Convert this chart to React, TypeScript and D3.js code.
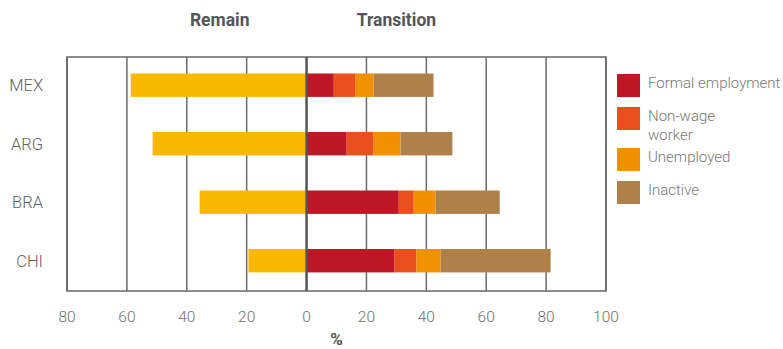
import * as d3 from "d3";

// countries, top to bottom
const categories = ["MEX", "ARG", "BRA", "CHI"];

// % who remain (drawn to the left of zero)
const remain = [58.7, 51.4, 35.7, 19.4];

// % who transition, by destination (stacked to the right)
const formal = [9.1, 13.4, 30.8, 29.4];
const nonWage = [7.3, 9.0, 5.0, 7.3];
const unemployed = [6.0, 9.0, 7.3, 8.1];
const inactive = [20.0, 17.3, 21.4, 36.7];

const seriesKeys = ["formal", "nonWage", "unemployed", "inactive"];
const seriesLabels = [["Formal employment"], ["Non-wage", "worker"], ["Unemployed"], ["Inactive"]];
const seriesColors = ["#be1826", "#e9501e", "#f29100", "#b0804b"];
const remainColor = "#fab800";

const xTicks = [-80, -60, -40, -20, 0, 20, 40, 60, 80, 100];

const W = 783;
const H = 349;
const font = "Roboto, 'Open Sans', sans-serif";

export default function App() {
  const rows = categories.map((c, i) => ({
    cat: c,
    formal: formal[i],
    nonWage: nonWage[i],
    unemployed: unemployed[i],
    inactive: inactive[i],
  }));

  const x = d3.scaleLinear().domain([-80, 100]).range([67, 606]);
  const y = d3.scaleBand().domain(categories).range([57, 291]).paddingInner(0.6).paddingOuter(0.3).align(0.47);

  const stacked = d3.stack<any>().keys(seriesKeys)(rows);

  const [top, bottom] = y.range();

  // legend rows, taller when the label wraps
  let ly = 74;
  const legend = seriesLabels.map((lines, i) => {
    const item = { lines, color: seriesColors[i], y: ly };
    ly += 33 + (lines.length - 1) * 8;
    return item;
  });

  return (
    <div style={{ position: "absolute", left: 0, top: 0 }}>
      <svg width={W} height={H} style={{ display: "block", background: "#fff" }}>
        {/* headings */}
        <text x={x(-29)} y={26} textAnchor="middle" fontFamily={font} fontWeight="bold" fontSize={17.5} fill="#555">
          Remain
        </text>
        <text x={x(30)} y={26} textAnchor="middle" fontFamily={font} fontWeight="bold" fontSize={17.5} fill="#555">
          Transition
        </text>

        {/* grid */}
        {xTicks.filter((t) => t !== 0).map((t) => (
          <line key={t} x1={x(t)} x2={x(t)} y1={top} y2={bottom} stroke="#6a6a6a" strokeWidth={1.5} />
        ))}
        <rect x={x(-80)} y={top} width={x(100) - x(-80)} height={bottom - top} fill="none" stroke="#666" strokeWidth={1.5} />

        {/* remain bars */}
        {categories.map((c, i) => (
          <rect key={c} x={x(-remain[i])} y={y(c)} width={x(0) - x(-remain[i])} height={y.bandwidth()} fill={remainColor} />
        ))}

        {/* transition bars */}
        {stacked.map((s, si) =>
          s.map((d) => (
            <rect
              key={`${s.key}-${d.data.cat}`}
              x={x(d[0])}
              y={y(d.data.cat)}
              width={x(d[1]) - x(d[0])}
              height={y.bandwidth()}
              fill={seriesColors[si]}
            />
          ))
        )}

        {/* zero line */}
        <line x1={x(0)} x2={x(0)} y1={top} y2={bottom} stroke="#555" strokeWidth={2.5} />

        {/* category labels */}
        {categories.map((c) => (
          <text key={c} x={43} y={(y(c) ?? 0) + y.bandwidth() / 2 + 6} textAnchor="end" fontFamily={font} fontWeight={300} fontSize={16.5} fill="#5f5f5f">
            {c}
          </text>
        ))}

        {/* tick labels */}
        {xTicks.map((t) => (
          <text key={t} x={x(t)} y={322} textAnchor="middle" fontFamily={font} fontWeight={300} fontSize={15.5} fill="#6f6f6f">
            {Math.abs(t)}
          </text>
        ))}
        <text x={x(10)} y={345} textAnchor="middle" fontFamily={font} fontWeight="bold" fontSize={17} fill="#555">
          %
        </text>

        {/* legend */}
        {legend.map((l) => (
          <g key={l.lines.join(" ")}>
            <rect x={617} y={l.y} width={23} height={23} fill={l.color} />
            {l.lines.map((t, j) => (
              <text key={t} x={648} y={l.y + 14 + j * 19} fontFamily={font} fontWeight={300} fontSize={15} fill="#777">
                {t}
              </text>
            ))}
          </g>
        ))}
      </svg>
    </div>
  );
}
